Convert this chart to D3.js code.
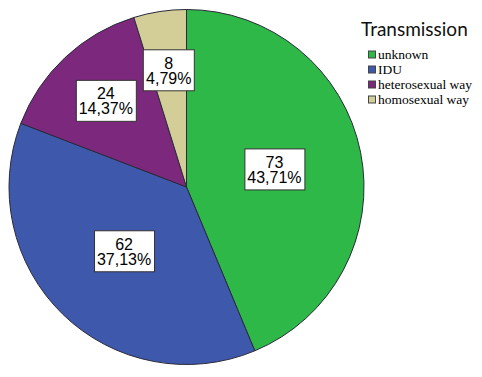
<!DOCTYPE html>
<html>
<head>
<meta charset="utf-8">
<script src="https://cdn.jsdelivr.net/npm/d3@7"></script>
<style>
  body { margin: 0; background: #fff; }
  svg { display: block; }
</style>
</head>
<body>
<div id="chart"></div>
<script>
// data
const categories = ["unknown", "IDU", "heterosexual way", "homosexual way"];
const counts = [73, 62, 24, 8];
const percentLabels = ["43,71%", "37,13%", "14,37%", "4,79%"];
const colors = ["#2EB848", "#3E58AC", "#7C287D", "#D3CE97"];
const legendTitle = "Transmission";

const width = 482, height = 377;
const cx = 186.5, cy = 187, radius = 177.5;

const svg = d3.select("#chart").append("svg")
    .attr("width", width)
    .attr("height", height);

const data = categories.map((c, i) => ({ label: c, value: counts[i], pct: percentLabels[i], color: colors[i] }));

const pie = d3.pie().value(d => d.value).sort(null);
const arc = d3.arc().innerRadius(0).outerRadius(radius);
const arcs = pie(data);

const g = svg.append("g").attr("transform", `translate(${cx},${cy})`);

g.selectAll(".slice")
    .data(arcs)
    .join("path")
    .attr("class", "slice")
    .attr("d", arc)
    .attr("fill", d => d.data.color)
    .attr("stroke", "#2a2a3a")
    .attr("stroke-width", 1);

// labels: bigger slices near the middle, small ones further out
const total = d3.sum(counts);
function labelPos(d) {
    const share = d.data.value / total;
    const r = radius * (share < 0.2 ? 0.665 : 0.505);
    const a = (d.startAngle + d.endAngle) / 2;
    return [Math.sin(a) * r, -Math.cos(a) * r];
}

const labels = g.selectAll(".lbl")
    .data(arcs)
    .join("g")
    .attr("class", "lbl")
    .attr("transform", d => `translate(${labelPos(d)})`);

const texts = labels.append("text")
    .attr("text-anchor", "middle")
    .style("font-family", "'Liberation Sans', Arial, sans-serif")
    .style("font-size", "16px")
    .attr("fill", "#000");

texts.append("tspan").attr("x", 0).attr("y", -1.5).text(d => d.data.value);
texts.append("tspan").attr("x", 0).attr("y", 13.5).text(d => d.data.pct);

labels.each(function() {
    const grp = d3.select(this);
    const bb = grp.select("text").node().getBBox();
    grp.insert("rect", "text")
        .attr("x", Math.round(bb.x - 3) + 0.5)
        .attr("y", Math.round(bb.y - 6) + 0.5)
        .attr("width", Math.round(bb.width + 6))
        .attr("height", Math.round(bb.height + 9))
        .attr("fill", "#fff")
        .attr("stroke", "#333")
        .attr("stroke-width", 1);
});

// legend
const legend = svg.append("g").attr("transform", "translate(362,0)");

legend.append("text")
    .attr("x", -1)
    .attr("y", 36)
    .style("font-family", "Lato, 'Open Sans', sans-serif")
    .style("font-size", "19px")
    .attr("fill", "#111")
    .text(legendTitle);

const items = legend.selectAll(".item")
    .data(data)
    .join("g")
    .attr("class", "item")
    .attr("transform", (d, i) => `translate(6,${54.5 + i * 15})`);

items.append("rect")
    .attr("x", 0.5)
    .attr("y", -3.5)
    .attr("width", 7)
    .attr("height", 7)
    .attr("fill", d => d.color)
    .attr("stroke", "#444")
    .attr("stroke-width", 1);

items.append("text")
    .attr("x", 10)
    .attr("y", 4.5)
    .style("font-family", "'Liberation Serif', 'Times New Roman', serif")
    .style("font-size", "13.5px")
    .attr("fill", "#000")
    .text(d => d.label);
</script>
</body>
</html>
